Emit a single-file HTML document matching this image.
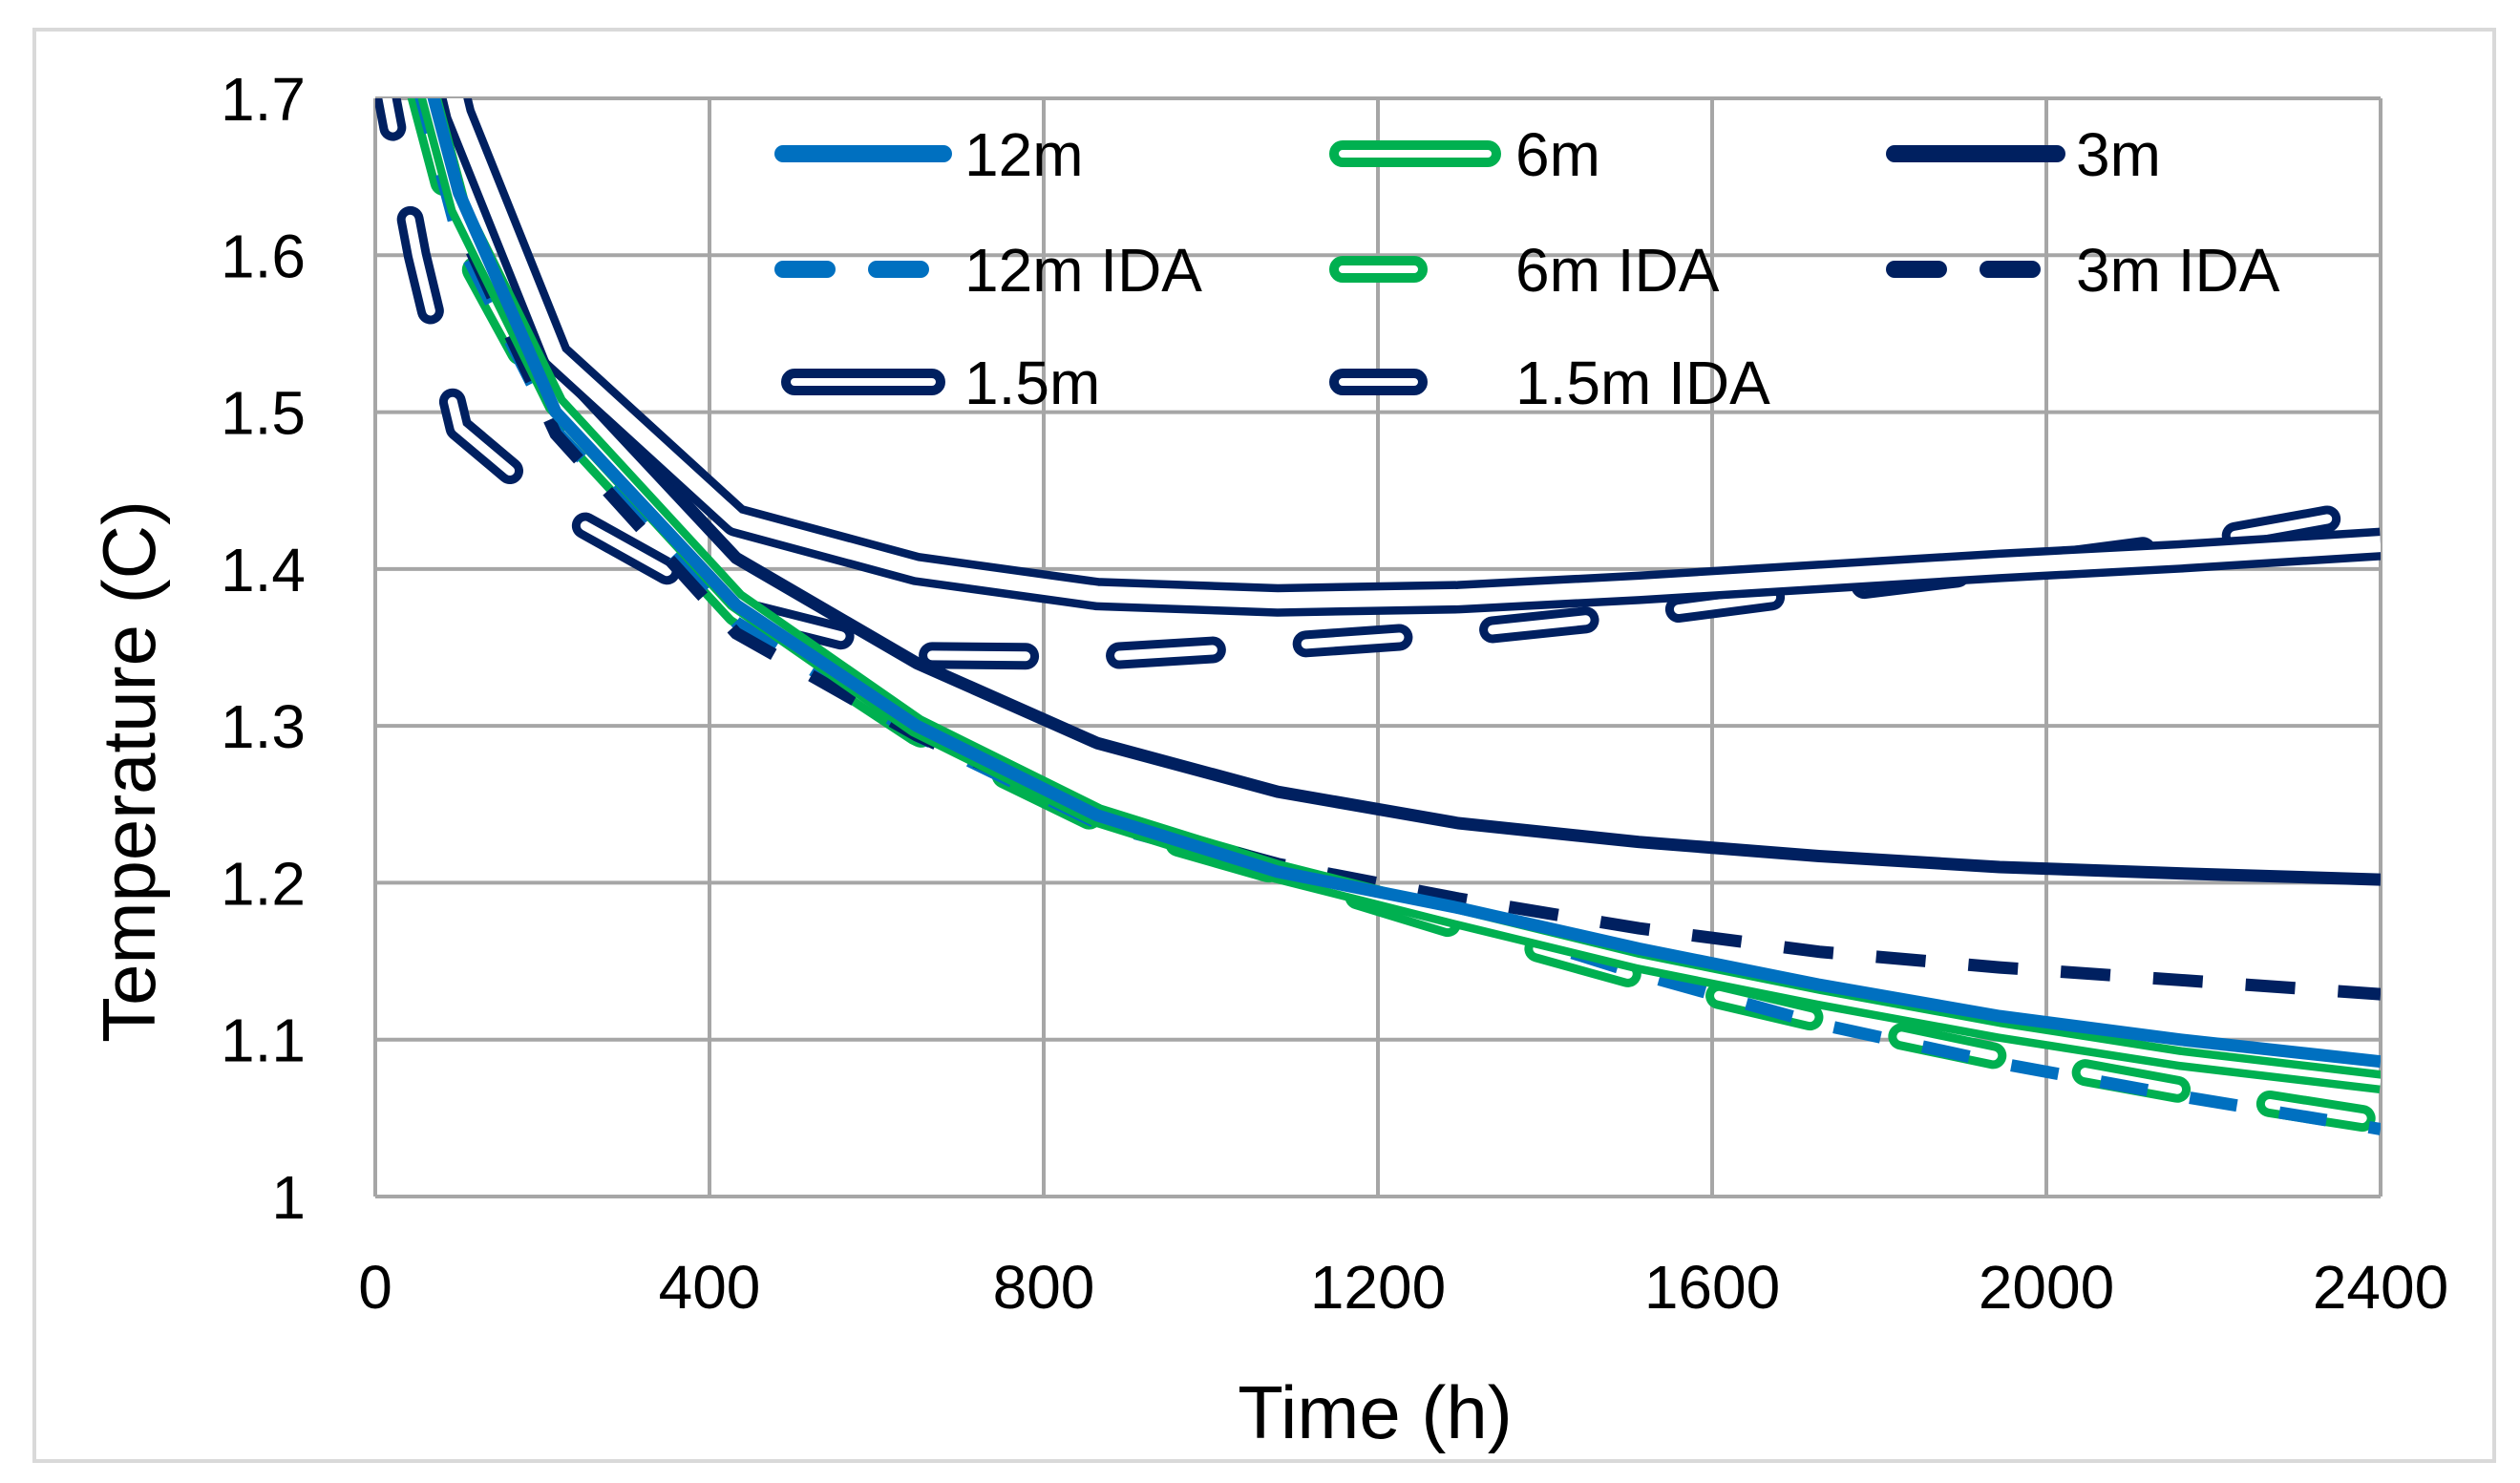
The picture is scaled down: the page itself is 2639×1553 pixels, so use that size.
<!DOCTYPE html>
<html><head><meta charset="utf-8"><style>
html,body{margin:0;padding:0;background:#fff;}
svg{display:block;}
text{font-family:"Liberation Sans",sans-serif;fill:#000;}
</style></head><body>
<svg id="chart" width="2639" height="1553" viewBox="0 0 2639 1553" xmlns="http://www.w3.org/2000/svg">
<rect x="0" y="0" width="2639" height="1553" fill="#fff"/>
<rect x="36" y="31" width="2576" height="1499" fill="none" stroke="#D9D9D9" stroke-width="4"/>
<g id="grid"></g>
<g id="yticks"></g>
<g id="xticks"></g>
<defs><clipPath id="plotclip"><rect x="393" y="103" width="2100" height="1150"/></clipPath></defs>
<g id="series" clip-path="url(#plotclip)"></g>
<g id="legend"></g>
<text x="1440" y="1506" font-size="78" text-anchor="middle">Time (h)</text>
<text x="0" y="0" font-size="78" text-anchor="middle" transform="translate(162,808) rotate(-90)">Temperature (C)</text>
</svg>
<script>
const times = [0,50,100,216,432,648,864,1080,1296,1512,1728,1944,2160,2400];
const s12m    = [1.85,1.74,1.64,1.500,1.377,1.300,1.243,1.207,1.184,1.158,1.135,1.115,1.100,1.086];
const s6m     = [1.84,1.73,1.63,1.505,1.380,1.300,1.243,1.207,1.178,1.150,1.127,1.106,1.088,1.073];
const s3m     = [1.88,1.78,1.68,1.530,1.407,1.340,1.289,1.258,1.238,1.226,1.217,1.210,1.206,1.202];
const s12mIDA = [1.82,1.71,1.61,1.488,1.366,1.294,1.238,1.207,1.178,1.142,1.110,1.085,1.064,1.043];
const s6mIDA  = [1.82,1.71,1.61,1.497,1.372,1.296,1.240,1.207,1.172,1.140,1.113,1.089,1.068,1.048];
const s3mIDA  = [1.83,1.72,1.62,1.486,1.359,1.294,1.243,1.212,1.190,1.171,1.156,1.146,1.138,1.129];
const s15m    = [1.90,1.80,1.69,1.536,1.431,1.400,1.384,1.380,1.382,1.388,1.395,1.402,1.408,1.416];
const s15mIDA = [1.74,1.60,1.49,1.438,1.374,1.345,1.344,1.351,1.359,1.371,1.386,1.400,1.415,1.438];
const yTicks = [1,1.1,1.2,1.3,1.4,1.5,1.6,1.7];
const yTickLabels = ["1","1.1","1.2","1.3","1.4","1.5","1.6","1.7"];
const xTicks = [0,400,800,1200,1600,2000,2400];
const xTickLabels = ["0","400","800","1200","1600","2000","2400"];
const legendLabels = ["12m","6m","3m","12m IDA","6m IDA","3m IDA","1.5m","1.5m IDA"];

const X0=393,X1=2493,Y0=1253,Y1=103;
function xs(h){return X0+(h-0)/(2400-0)*(X1-X0);}
function ys(t){return Y0-(t-1.0)/(1.7-1.0)*(Y0-Y1);}
const NS="http://www.w3.org/2000/svg";
function mk(tag,attrs,parent){const e=document.createElementNS(NS,tag);for(const k in attrs)e.setAttribute(k,attrs[k]);parent.appendChild(e);return e;}

const grid=document.getElementById('grid');
yTicks.forEach((v,i)=>{
  const l=mk('line',{x1:X0,x2:X1,y1:ys(v),y2:ys(v),stroke:'#A6A6A6','stroke-width':4},grid);
  
  
  const t=mk('text',{x:320,y:ys(v)+23,'font-size':64,'text-anchor':'end'},document.getElementById('yticks'));
  t.textContent=yTickLabels[i];
  
  
});
xTicks.forEach((v,i)=>{
  const l=mk('line',{x1:xs(v),x2:xs(v),y1:Y1,y2:Y0,stroke:'#A6A6A6','stroke-width':4},grid);
  
  
  const t=mk('text',{x:xs(v),y:1370,'font-size':64,'text-anchor':'middle'},document.getElementById('xticks'));
  t.textContent=xTickLabels[i];
  
  
});

const BLUE='#0070C0',GREEN='#00B050',DARK='#002060';
const seriesDefs=[
  {name:'series-1-5m-ida',data:s15mIDA,color:DARK,type:'outline',dash:'98 98'},
  {name:'series-6m-ida',data:s6mIDA,color:GREEN,type:'outline',dash:'98 98'},
  {name:'series-12m-ida',data:s12mIDA,color:BLUE,type:'dash',dash:'50 45'},
  {name:'series-3m-ida',data:s3mIDA,color:DARK,type:'dash',dash:'52 45'},
  {name:'series-3m',data:s3m,color:DARK,type:'solid'},
  {name:'series-1-5m',data:s15m,color:DARK,type:'outline2'},
  {name:'series-6m',data:s6m,color:GREEN,type:'outline3'},
  {name:'series-12m',data:s12m,color:BLUE,type:'solid'}
];
const sg=document.getElementById('series');
seriesDefs.forEach(s=>{
  const d=s.data.map((v,i)=>(i?'L':'M')+xs(times[i]).toFixed(1)+' '+ys(v).toFixed(1)).join(' ');
  const g=mk('g',{},sg);
  
  
  if(s.type==='solid'){
    mk('path',{d:d,fill:'none',stroke:s.color,'stroke-width':13,'stroke-linejoin':'round'},g);
  }else if(s.type==='dash'){
    mk('path',{d:d,fill:'none',stroke:s.color,'stroke-width':13,'stroke-dasharray':s.dash},g);
  }else if(s.type==='outline'){
    mk('path',{d:d,fill:'none',stroke:s.color,'stroke-width':28,'stroke-dasharray':s.dash,'stroke-linecap':'round','stroke-linejoin':'round'},g);
    mk('path',{d:d,fill:'none',stroke:'#fff','stroke-width':10,'stroke-dasharray':s.dash,'stroke-linecap':'round','stroke-linejoin':'round'},g);
  }else if(s.type==='outline2'){
    mk('path',{d:d,fill:'none',stroke:s.color,'stroke-width':34,'stroke-linejoin':'round'},g);
    mk('path',{d:d,fill:'none',stroke:'#fff','stroke-width':17,'stroke-linejoin':'round'},g);
  }else{
    mk('path',{d:d,fill:'none',stroke:s.color,'stroke-width':24,'stroke-linejoin':'round'},g);
    mk('path',{d:d,fill:'none',stroke:'#fff','stroke-width':7,'stroke-linejoin':'round'},g);
  }
});

const lg=document.getElementById('legend');
const legendItems=[
  {c:0,r:0,type:'solid',color:BLUE},{c:1,r:0,type:'outline',color:GREEN,full:true},{c:2,r:0,type:'solid',color:DARK},
  {c:0,r:1,type:'dash',color:BLUE},{c:1,r:1,type:'outline',color:GREEN},{c:2,r:1,type:'dash',color:DARK},
  {c:0,r:2,type:'outline',color:DARK,full:true},{c:1,r:2,type:'outline',color:DARK}
];
const rowsY=[161,282,400];
const colX=[[814,994,1010],[1388,1576,1587],[1978,2160,2174]];
legendItems.forEach((it,i)=>{
  const g=mk('g',{},lg);
  
  
  const [a,b,tx]=colX[it.c];const y=rowsY[it.r];
  if(it.type==='solid'){
    mk('line',{x1:a+6,x2:b-6,y1:y,y2:y,stroke:it.color,'stroke-width':18,'stroke-linecap':'round'},g);
  }else if(it.type==='dash'){
    mk('line',{x1:a+6,x2:a+52,y1:y,y2:y,stroke:it.color,'stroke-width':18,'stroke-linecap':'round'},g);
    mk('line',{x1:a+104,x2:a+150,y1:y,y2:y,stroke:it.color,'stroke-width':18,'stroke-linecap':'round'},g);
  }else{
    const e=it.full?b:a+111;
    mk('rect',{x:a+9,y:y-9,width:e-a-18,height:18,rx:9,fill:'#fff',stroke:it.color,'stroke-width':10},g);
  }
  const t=mk('text',{x:tx,y:y+23,'font-size':64},g);
  t.textContent=legendLabels[i];
});
</script>
</body></html>
